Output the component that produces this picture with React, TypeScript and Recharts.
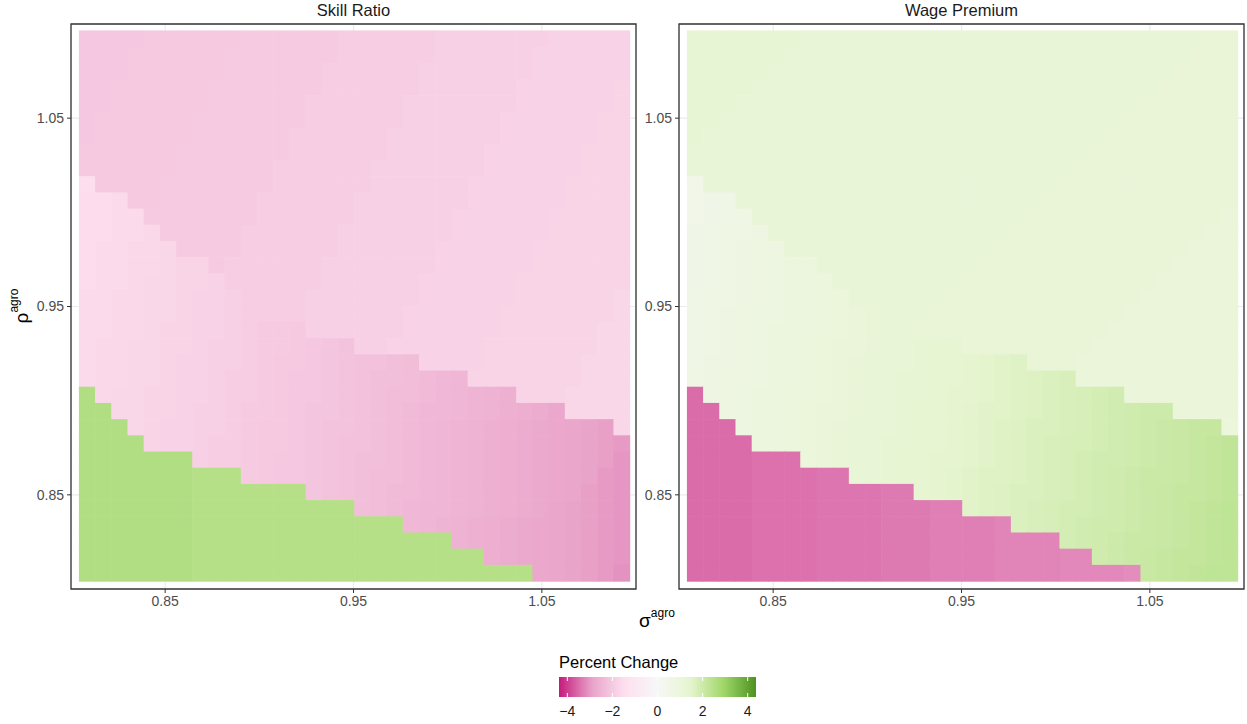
import React from 'react';
import { ScatterChart, Scatter, XAxis, YAxis, CartesianGrid, ReferenceArea } from 'recharts';

// ---- categories (cell centres) ----
const sigmaValues = [0.8085, 0.8171, 0.8257, 0.8343, 0.8429, 0.8515, 0.8601, 0.8687, 0.8773, 0.8859, 0.8945, 0.9031, 0.9117, 0.9203, 0.9289, 0.9375, 0.9461, 0.9547, 0.9633, 0.9719, 0.9805, 0.9891, 0.9977, 1.0063, 1.0149, 1.0235, 1.0321, 1.0407, 1.0493, 1.0579, 1.0665, 1.0751, 1.0837, 1.0923];
// top row first
const rhoValues = [1.0923, 1.0837, 1.0751, 1.0665, 1.0579, 1.0493, 1.0407, 1.0321, 1.0235, 1.0149, 1.0063, 0.9977, 0.9891, 0.9805, 0.9719, 0.9633, 0.9547, 0.9461, 0.9375, 0.9289, 0.9203, 0.9117, 0.9031, 0.8945, 0.8859, 0.8773, 0.8687, 0.8601, 0.8515, 0.8429, 0.8343, 0.8257, 0.8171, 0.8085];
const CELL_STEP = 0.0086;

const axisTicks = [0.85, 0.95, 1.05];
const minorGridValues = [0.9, 1.0];
const legendTicks = [-4, -2, 0, 2, 4];
const panelTitles = ['Skill Ratio', 'Wage Premium'];

// ---- Skill Ratio (percent change), rows top -> bottom, columns left -> right ----
const skillRatio: number[][] = [
  [-2.05,-2.05,-2.05,-2.05,-2,-2,-2,-2,-2,-2,-1.95,-1.95,-1.95,-1.95,-1.95,-1.95,-1.9,-1.9,-1.9,-1.9,-1.9,-1.9,-1.85,-1.85,-1.85,-1.85,-1.85,-1.85,-1.85,-1.8,-1.8,-1.8,-1.8,-1.8],
  [-2.05,-2.05,-2.05,-2,-2,-2,-2,-2,-2,-1.95,-1.95,-1.95,-1.95,-1.95,-1.95,-1.95,-1.9,-1.9,-1.9,-1.9,-1.9,-1.9,-1.85,-1.85,-1.85,-1.85,-1.85,-1.85,-1.8,-1.8,-1.8,-1.8,-1.8,-1.8],
  [-2.05,-2.05,-2.05,-2,-2,-2,-2,-2,-2,-1.95,-1.95,-1.95,-1.95,-1.95,-1.95,-1.9,-1.9,-1.9,-1.9,-1.9,-1.9,-1.85,-1.85,-1.85,-1.85,-1.85,-1.85,-1.85,-1.8,-1.8,-1.8,-1.8,-1.8,-1.8],
  [-2.05,-2.05,-2,-2,-2,-2,-2,-2,-1.95,-1.95,-1.95,-1.95,-1.95,-1.95,-1.95,-1.9,-1.9,-1.9,-1.9,-1.9,-1.9,-1.85,-1.85,-1.85,-1.85,-1.85,-1.85,-1.8,-1.8,-1.8,-1.8,-1.8,-1.8,-1.75],
  [-2.05,-2.05,-2,-2,-2,-2,-2,-2,-1.95,-1.95,-1.95,-1.95,-1.95,-1.95,-1.9,-1.9,-1.9,-1.9,-1.9,-1.9,-1.85,-1.85,-1.85,-1.85,-1.85,-1.85,-1.85,-1.8,-1.8,-1.8,-1.8,-1.8,-1.8,-1.75],
  [-2.05,-2,-2,-2,-2,-2,-2,-1.95,-1.95,-1.95,-1.95,-1.95,-1.95,-1.95,-1.9,-1.9,-1.9,-1.9,-1.9,-1.9,-1.85,-1.85,-1.85,-1.85,-1.85,-1.85,-1.8,-1.8,-1.8,-1.8,-1.8,-1.8,-1.75,-1.75],
  [-2.05,-2,-2,-2,-2,-2,-2,-1.95,-1.95,-1.95,-1.95,-1.95,-1.95,-1.9,-1.9,-1.9,-1.9,-1.9,-1.9,-1.85,-1.85,-1.85,-1.85,-1.85,-1.85,-1.85,-1.8,-1.8,-1.8,-1.8,-1.8,-1.8,-1.75,-1.75],
  [-2,-2,-2,-2,-2,-2,-1.95,-1.95,-1.95,-1.95,-1.95,-1.95,-1.95,-1.9,-1.9,-1.9,-1.9,-1.9,-1.9,-1.85,-1.85,-1.85,-1.85,-1.85,-1.85,-1.8,-1.8,-1.8,-1.8,-1.8,-1.8,-1.75,-1.75,-1.75],
  [-2,-2,-2,-2,-2,-2,-1.95,-1.95,-1.95,-1.95,-1.95,-1.95,-1.9,-1.9,-1.9,-1.9,-1.9,-1.9,-1.85,-1.85,-1.85,-1.85,-1.85,-1.85,-1.85,-1.8,-1.8,-1.8,-1.8,-1.8,-1.8,-1.75,-1.75,-1.75],
  [-1.5,-2,-2,-2,-2,-1.95,-1.95,-1.95,-1.95,-1.95,-1.95,-1.95,-1.9,-1.9,-1.9,-1.9,-1.9,-1.9,-1.85,-1.85,-1.85,-1.85,-1.85,-1.85,-1.8,-1.8,-1.8,-1.8,-1.8,-1.8,-1.75,-1.75,-1.75,-1.75],
  [-1.55,-1.55,-1.6,-2,-2,-1.95,-1.95,-1.95,-1.95,-1.95,-1.95,-1.9,-1.9,-1.9,-1.9,-1.9,-1.9,-1.85,-1.85,-1.85,-1.85,-1.85,-1.85,-1.85,-1.8,-1.8,-1.8,-1.8,-1.8,-1.8,-1.75,-1.75,-1.75,-1.75],
  [-1.55,-1.55,-1.6,-1.6,-1.95,-1.95,-1.95,-1.95,-1.95,-1.95,-1.95,-1.9,-1.9,-1.9,-1.9,-1.9,-1.9,-1.85,-1.85,-1.85,-1.85,-1.85,-1.85,-1.8,-1.8,-1.8,-1.8,-1.8,-1.8,-1.75,-1.75,-1.75,-1.75,-1.75],
  [-1.55,-1.55,-1.6,-1.6,-1.65,-1.95,-1.95,-1.95,-1.95,-1.95,-1.9,-1.9,-1.9,-1.9,-1.9,-1.9,-1.85,-1.85,-1.85,-1.85,-1.85,-1.85,-1.85,-1.8,-1.8,-1.8,-1.8,-1.8,-1.8,-1.75,-1.75,-1.75,-1.75,-1.75],
  [-1.55,-1.6,-1.6,-1.65,-1.65,-1.7,-1.95,-1.95,-1.95,-1.95,-1.9,-1.9,-1.9,-1.9,-1.9,-1.9,-1.85,-1.85,-1.85,-1.85,-1.85,-1.85,-1.8,-1.8,-1.8,-1.8,-1.8,-1.8,-1.75,-1.75,-1.75,-1.75,-1.75,-1.75],
  [-1.55,-1.6,-1.6,-1.65,-1.65,-1.7,-1.75,-1.75,-1.95,-1.9,-1.9,-1.9,-1.9,-1.9,-1.9,-1.85,-1.85,-1.85,-1.85,-1.85,-1.85,-1.85,-1.8,-1.8,-1.8,-1.8,-1.8,-1.8,-1.75,-1.75,-1.75,-1.75,-1.75,-1.75],
  [-1.55,-1.6,-1.6,-1.65,-1.7,-1.7,-1.75,-1.75,-1.8,-1.9,-1.9,-1.9,-1.9,-1.9,-1.9,-1.85,-1.85,-1.85,-1.85,-1.85,-1.85,-1.8,-1.8,-1.8,-1.8,-1.8,-1.8,-1.75,-1.75,-1.75,-1.75,-1.75,-1.75,-1.75],
  [-1.6,-1.6,-1.65,-1.65,-1.7,-1.7,-1.75,-1.8,-1.8,-1.85,-1.9,-1.9,-1.9,-1.9,-1.85,-1.85,-1.85,-1.85,-1.85,-1.85,-1.85,-1.8,-1.8,-1.8,-1.8,-1.8,-1.8,-1.75,-1.75,-1.75,-1.75,-1.75,-1.75,-1.7],
  [-1.6,-1.6,-1.65,-1.65,-1.7,-1.7,-1.75,-1.8,-1.8,-1.85,-1.9,-1.9,-1.9,-1.9,-1.85,-1.85,-1.85,-1.85,-1.85,-1.85,-1.8,-1.8,-1.8,-1.8,-1.8,-1.8,-1.75,-1.75,-1.75,-1.75,-1.75,-1.75,-1.75,-1.7],
  [-1.6,-1.6,-1.65,-1.65,-1.7,-1.75,-1.75,-1.8,-1.8,-1.85,-1.9,-1.95,-1.95,-2,-1.85,-1.85,-1.85,-1.85,-1.85,-1.85,-1.8,-1.8,-1.8,-1.8,-1.8,-1.8,-1.75,-1.75,-1.75,-1.75,-1.75,-1.75,-1.7,-1.7],
  [-1.6,-1.65,-1.65,-1.7,-1.7,-1.75,-1.75,-1.8,-1.85,-1.85,-1.9,-1.95,-1.95,-2,-2.05,-2.1,-2.15,-1.85,-1.85,-1.8,-1.8,-1.8,-1.8,-1.8,-1.8,-1.75,-1.75,-1.75,-1.75,-1.75,-1.75,-1.75,-1.7,-1.7],
  [-1.6,-1.65,-1.65,-1.7,-1.7,-1.75,-1.8,-1.8,-1.85,-1.85,-1.9,-1.95,-2,-2,-2.05,-2.1,-2.15,-2.2,-2.2,-2.25,-2.3,-1.8,-1.8,-1.8,-1.8,-1.75,-1.75,-1.75,-1.75,-1.75,-1.75,-1.7,-1.7,-1.7],
  [-1.6,-1.65,-1.65,-1.7,-1.7,-1.75,-1.8,-1.8,-1.85,-1.9,-1.9,-1.95,-2,-2.05,-2.05,-2.1,-2.15,-2.2,-2.25,-2.25,-2.3,-2.35,-2.4,-2.45,-1.75,-1.75,-1.75,-1.75,-1.75,-1.75,-1.75,-1.7,-1.7,-1.7],
  [2.55,-1.65,-1.7,-1.7,-1.75,-1.75,-1.8,-1.8,-1.85,-1.9,-1.9,-1.95,-2,-2.05,-2.05,-2.1,-2.15,-2.2,-2.25,-2.3,-2.3,-2.35,-2.4,-2.45,-2.5,-2.55,-2.6,-1.75,-1.75,-1.75,-1.7,-1.7,-1.7,-1.7],
  [2.55,2.55,-1.7,-1.7,-1.75,-1.75,-1.8,-1.85,-1.85,-1.9,-1.95,-1.95,-2,-2.05,-2.1,-2.1,-2.15,-2.2,-2.25,-2.3,-2.35,-2.4,-2.4,-2.45,-2.5,-2.55,-2.6,-2.65,-2.7,-2.8,-1.7,-1.7,-1.7,-1.7],
  [2.55,2.55,2.55,-1.7,-1.75,-1.8,-1.8,-1.85,-1.85,-1.9,-1.95,-2,-2,-2.05,-2.1,-2.15,-2.15,-2.2,-2.25,-2.3,-2.35,-2.4,-2.45,-2.5,-2.55,-2.6,-2.65,-2.7,-2.75,-2.8,-2.85,-2.9,-2.95,-1.7],
  [2.55,2.55,2.55,2.55,-1.75,-1.8,-1.8,-1.85,-1.9,-1.9,-1.95,-2,-2,-2.05,-2.1,-2.15,-2.2,-2.2,-2.25,-2.3,-2.35,-2.4,-2.45,-2.5,-2.55,-2.6,-2.65,-2.7,-2.75,-2.8,-2.85,-2.9,-2.95,-3],
  [2.55,2.55,2.55,2.55,2.55,2.55,2.55,-1.85,-1.9,-1.9,-1.95,-2,-2.05,-2.05,-2.1,-2.15,-2.2,-2.25,-2.25,-2.3,-2.35,-2.4,-2.45,-2.5,-2.55,-2.6,-2.65,-2.7,-2.75,-2.8,-2.85,-2.9,-2.95,-3.05],
  [2.55,2.55,2.55,2.55,2.55,2.55,2.55,2.5,2.5,2.5,-1.95,-2,-2.05,-2.05,-2.1,-2.15,-2.2,-2.25,-2.3,-2.3,-2.35,-2.4,-2.45,-2.5,-2.55,-2.6,-2.65,-2.7,-2.75,-2.8,-2.85,-2.9,-3,-3.05],
  [2.55,2.55,2.55,2.55,2.55,2.55,2.55,2.5,2.5,2.5,2.5,2.5,2.5,2.5,-2.1,-2.15,-2.2,-2.25,-2.3,-2.35,-2.35,-2.4,-2.45,-2.5,-2.55,-2.6,-2.65,-2.7,-2.75,-2.8,-2.85,-2.95,-3,-3.05],
  [2.55,2.55,2.55,2.55,2.55,2.55,2.55,2.5,2.5,2.5,2.5,2.5,2.5,2.5,2.5,2.5,2.5,-2.25,-2.3,-2.35,-2.4,-2.45,-2.45,-2.5,-2.55,-2.6,-2.65,-2.7,-2.75,-2.85,-2.9,-2.95,-3,-3.05],
  [2.55,2.55,2.55,2.55,2.55,2.55,2.55,2.5,2.5,2.5,2.5,2.5,2.5,2.5,2.5,2.5,2.5,2.5,2.5,2.5,-2.4,-2.45,-2.5,-2.55,-2.6,-2.65,-2.7,-2.75,-2.8,-2.85,-2.9,-2.95,-3,-3.05],
  [2.55,2.55,2.55,2.55,2.55,2.55,2.55,2.5,2.5,2.5,2.5,2.5,2.5,2.5,2.5,2.5,2.5,2.5,2.5,2.5,2.5,2.5,2.5,-2.55,-2.6,-2.65,-2.7,-2.75,-2.8,-2.85,-2.9,-2.95,-3,-3.05],
  [2.55,2.55,2.55,2.55,2.55,2.55,2.55,2.5,2.5,2.5,2.5,2.5,2.5,2.5,2.5,2.5,2.5,2.5,2.5,2.5,2.5,2.5,2.5,2.5,2.5,-2.65,-2.7,-2.75,-2.8,-2.85,-2.9,-2.95,-3,-3.05],
  [2.55,2.55,2.55,2.55,2.55,2.55,2.55,2.5,2.5,2.5,2.5,2.5,2.5,2.5,2.5,2.5,2.5,2.5,2.5,2.5,2.5,2.5,2.5,2.5,2.5,2.5,2.5,2.5,-2.8,-2.85,-2.9,-2.95,-3,-3.1],
];

// ---- Wage Premium (percent change) ----
const wagePremium: number[][] = [
  [1.3,1.3,1.3,1.3,1.3,1.3,1.3,1.25,1.25,1.25,1.25,1.25,1.25,1.25,1.25,1.25,1.25,1.25,1.25,1.2,1.2,1.2,1.2,1.2,1.2,1.2,1.2,1.2,1.2,1.2,1.2,1.2,1.15,1.15],
  [1.3,1.3,1.3,1.3,1.3,1.3,1.25,1.25,1.25,1.25,1.25,1.25,1.25,1.25,1.25,1.25,1.25,1.25,1.2,1.2,1.2,1.2,1.2,1.2,1.2,1.2,1.2,1.2,1.2,1.2,1.2,1.15,1.15,1.15],
  [1.3,1.3,1.3,1.3,1.3,1.25,1.25,1.25,1.25,1.25,1.25,1.25,1.25,1.25,1.25,1.25,1.25,1.2,1.2,1.2,1.2,1.2,1.2,1.2,1.2,1.2,1.2,1.2,1.2,1.2,1.15,1.15,1.15,1.15],
  [1.3,1.3,1.3,1.3,1.25,1.25,1.25,1.25,1.25,1.25,1.25,1.25,1.25,1.25,1.25,1.25,1.2,1.2,1.2,1.2,1.2,1.2,1.2,1.2,1.2,1.2,1.2,1.2,1.2,1.15,1.15,1.15,1.15,1.15],
  [1.3,1.3,1.3,1.25,1.25,1.25,1.25,1.25,1.25,1.25,1.25,1.25,1.25,1.25,1.25,1.2,1.2,1.2,1.2,1.2,1.2,1.2,1.2,1.2,1.2,1.2,1.2,1.2,1.15,1.15,1.15,1.15,1.15,1.15],
  [1.3,1.3,1.25,1.25,1.25,1.25,1.25,1.25,1.25,1.25,1.25,1.25,1.25,1.25,1.2,1.2,1.2,1.2,1.2,1.2,1.2,1.2,1.2,1.2,1.2,1.2,1.2,1.15,1.15,1.15,1.15,1.15,1.15,1.15],
  [1.3,1.25,1.25,1.25,1.25,1.25,1.25,1.25,1.25,1.25,1.25,1.25,1.25,1.2,1.2,1.2,1.2,1.2,1.2,1.2,1.2,1.2,1.2,1.2,1.2,1.2,1.15,1.15,1.15,1.15,1.15,1.15,1.15,1.15],
  [1.25,1.25,1.25,1.25,1.25,1.25,1.25,1.25,1.25,1.25,1.25,1.25,1.2,1.2,1.2,1.2,1.2,1.2,1.2,1.2,1.2,1.2,1.2,1.2,1.2,1.15,1.15,1.15,1.15,1.15,1.15,1.15,1.15,1.15],
  [1.25,1.25,1.25,1.25,1.25,1.25,1.25,1.25,1.25,1.25,1.25,1.2,1.2,1.2,1.2,1.2,1.2,1.2,1.2,1.2,1.2,1.2,1.2,1.2,1.15,1.15,1.15,1.15,1.15,1.15,1.15,1.15,1.15,1.15],
  [0.55,1.25,1.25,1.25,1.25,1.25,1.25,1.25,1.25,1.25,1.2,1.2,1.2,1.2,1.2,1.2,1.2,1.2,1.2,1.2,1.2,1.2,1.2,1.15,1.15,1.15,1.15,1.15,1.15,1.15,1.15,1.15,1.15,1.15],
  [0.55,0.6,0.65,1.25,1.25,1.25,1.25,1.25,1.25,1.2,1.2,1.2,1.2,1.2,1.2,1.2,1.2,1.2,1.2,1.2,1.2,1.2,1.15,1.15,1.15,1.15,1.15,1.15,1.15,1.15,1.15,1.15,1.15,1.15],
  [0.55,0.6,0.65,0.7,1.25,1.25,1.25,1.25,1.2,1.2,1.2,1.2,1.2,1.2,1.2,1.2,1.2,1.2,1.2,1.2,1.2,1.15,1.15,1.15,1.15,1.15,1.15,1.15,1.15,1.15,1.15,1.15,1.15,1.1],
  [0.6,0.65,0.7,0.7,0.75,1.25,1.25,1.2,1.2,1.2,1.2,1.2,1.2,1.2,1.2,1.2,1.2,1.2,1.2,1.2,1.15,1.15,1.15,1.15,1.15,1.15,1.15,1.15,1.15,1.15,1.15,1.15,1.1,1.1],
  [0.6,0.65,0.7,0.75,0.8,0.8,1.2,1.2,1.2,1.2,1.2,1.2,1.2,1.2,1.2,1.2,1.2,1.2,1.2,1.15,1.15,1.15,1.15,1.15,1.15,1.15,1.15,1.15,1.15,1.15,1.15,1.1,1.1,1.1],
  [0.6,0.65,0.7,0.75,0.8,0.85,0.9,0.95,1.2,1.2,1.2,1.2,1.2,1.2,1.2,1.2,1.2,1.2,1.15,1.15,1.15,1.15,1.15,1.15,1.15,1.15,1.15,1.15,1.15,1.15,1.1,1.1,1.1,1.1],
  [0.6,0.65,0.7,0.75,0.8,0.85,0.9,0.95,1,1.2,1.2,1.2,1.2,1.2,1.2,1.2,1.2,1.15,1.15,1.15,1.15,1.15,1.15,1.15,1.15,1.15,1.15,1.15,1.15,1.1,1.1,1.1,1.1,1.1],
  [0.65,0.7,0.7,0.75,0.8,0.85,0.9,0.95,1,1.05,1.2,1.2,1.2,1.2,1.2,1.2,1.15,1.15,1.15,1.15,1.15,1.15,1.15,1.15,1.15,1.15,1.15,1.15,1.1,1.1,1.1,1.1,1.1,1.1],
  [0.65,0.7,0.75,0.8,0.85,0.85,0.9,0.95,1,1.05,1.1,1.15,1.2,1.2,1.2,1.15,1.15,1.15,1.15,1.15,1.15,1.15,1.15,1.15,1.15,1.15,1.15,1.1,1.1,1.1,1.1,1.1,1.1,1.1],
  [0.65,0.7,0.75,0.8,0.85,0.9,0.95,0.95,1,1.05,1.1,1.15,1.2,1.25,1.15,1.15,1.15,1.15,1.15,1.15,1.15,1.15,1.15,1.15,1.15,1.15,1.1,1.1,1.1,1.1,1.1,1.1,1.1,1.1],
  [0.65,0.7,0.75,0.8,0.85,0.9,0.95,1,1.05,1.1,1.1,1.15,1.2,1.25,1.3,1.35,1.4,1.15,1.15,1.15,1.15,1.15,1.15,1.15,1.15,1.1,1.1,1.1,1.1,1.1,1.1,1.1,1.1,1.1],
  [0.7,0.75,0.75,0.8,0.85,0.9,0.95,1,1.05,1.1,1.15,1.2,1.2,1.25,1.3,1.35,1.4,1.45,1.5,1.55,1.6,1.15,1.15,1.15,1.1,1.1,1.1,1.1,1.1,1.1,1.1,1.1,1.1,1.1],
  [0.7,0.75,0.8,0.85,0.85,0.9,0.95,1,1.05,1.1,1.15,1.2,1.25,1.3,1.3,1.35,1.4,1.45,1.5,1.55,1.6,1.65,1.7,1.75,1.1,1.1,1.1,1.1,1.1,1.1,1.1,1.1,1.1,1.1],
  [-3.5,0.75,0.8,0.85,0.9,0.95,1,1,1.05,1.1,1.15,1.2,1.25,1.3,1.35,1.4,1.45,1.45,1.5,1.55,1.6,1.65,1.7,1.75,1.8,1.85,1.9,1.1,1.1,1.1,1.1,1.1,1.1,1.1],
  [-3.5,-3.5,0.8,0.85,0.9,0.95,1,1.05,1.1,1.1,1.15,1.2,1.25,1.3,1.35,1.4,1.45,1.5,1.55,1.55,1.6,1.65,1.7,1.75,1.8,1.85,1.9,1.95,2,2,1.1,1.1,1.1,1.1],
  [-3.5,-3.5,-3.5,0.85,0.9,0.95,1,1.05,1.1,1.15,1.2,1.2,1.25,1.3,1.35,1.4,1.45,1.5,1.55,1.6,1.65,1.7,1.7,1.75,1.8,1.85,1.9,1.95,2,2.05,2.1,2.15,2.15,1.05],
  [-3.5,-3.5,-3.5,-3.5,0.9,0.95,1,1.05,1.1,1.15,1.2,1.25,1.3,1.35,1.35,1.4,1.45,1.5,1.55,1.6,1.65,1.7,1.75,1.8,1.8,1.85,1.9,1.95,2,2.05,2.1,2.15,2.2,2.25],
  [-3.5,-3.5,-3.5,-3.5,-3.45,-3.45,-3.45,1.05,1.1,1.15,1.2,1.25,1.3,1.35,1.4,1.45,1.45,1.5,1.55,1.6,1.65,1.7,1.75,1.8,1.85,1.9,1.9,1.95,2,2.05,2.1,2.15,2.2,2.25],
  [-3.5,-3.5,-3.5,-3.5,-3.45,-3.45,-3.45,-3.45,-3.4,-3.4,1.2,1.25,1.3,1.35,1.4,1.45,1.5,1.55,1.6,1.6,1.65,1.7,1.75,1.8,1.85,1.9,1.95,2,2.05,2.05,2.1,2.15,2.2,2.25],
  [-3.5,-3.5,-3.5,-3.5,-3.45,-3.45,-3.45,-3.45,-3.4,-3.4,-3.4,-3.4,-3.35,-3.35,1.4,1.45,1.5,1.55,1.6,1.65,1.7,1.7,1.75,1.8,1.85,1.9,1.95,2,2.05,2.1,2.15,2.15,2.2,2.25],
  [-3.5,-3.5,-3.5,-3.5,-3.45,-3.45,-3.45,-3.45,-3.4,-3.4,-3.4,-3.4,-3.35,-3.35,-3.35,-3.3,-3.3,1.55,1.6,1.65,1.7,1.75,1.8,1.85,1.85,1.9,1.95,2,2.05,2.1,2.15,2.2,2.25,2.3],
  [-3.5,-3.5,-3.5,-3.5,-3.45,-3.45,-3.45,-3.45,-3.4,-3.4,-3.4,-3.4,-3.35,-3.35,-3.35,-3.3,-3.3,-3.3,-3.3,-3.25,1.7,1.75,1.8,1.85,1.9,1.95,1.95,2,2.05,2.1,2.15,2.2,2.25,2.3],
  [-3.5,-3.5,-3.5,-3.5,-3.45,-3.45,-3.45,-3.45,-3.4,-3.4,-3.4,-3.4,-3.35,-3.35,-3.35,-3.3,-3.3,-3.3,-3.3,-3.25,-3.25,-3.25,-3.25,1.85,1.9,1.95,2,2.05,2.05,2.1,2.15,2.2,2.25,2.3],
  [-3.5,-3.5,-3.5,-3.5,-3.45,-3.45,-3.45,-3.45,-3.4,-3.4,-3.4,-3.4,-3.35,-3.35,-3.35,-3.3,-3.3,-3.3,-3.3,-3.25,-3.25,-3.25,-3.25,-3.2,-3.2,1.95,2,2.05,2.1,2.15,2.2,2.2,2.25,2.3],
  [-3.5,-3.5,-3.5,-3.5,-3.45,-3.45,-3.45,-3.45,-3.4,-3.4,-3.4,-3.4,-3.35,-3.35,-3.35,-3.3,-3.3,-3.3,-3.3,-3.25,-3.25,-3.25,-3.25,-3.2,-3.2,-3.2,-3.2,-3.15,2.1,2.15,2.2,2.25,2.3,2.3],
];

// ---- colour scale (PiYG, symmetric limits) ----
const LIMIT = 4.37;
const palette = ['#c51b7d', '#e9a3c9', '#fde0ef', '#f7f7f7', '#e6f5d0', '#a1d76a', '#4d9221'];

const FONT = '"Liberation Sans", Arial, Helvetica, sans-serif';
const DOMAIN: [number, number] = [0.8, 1.1];
const PLOT_SIZE = 565;
const CHART_HEIGHT = 619;

function hexToRgb(h: string) {
  return [parseInt(h.slice(1, 3), 16), parseInt(h.slice(3, 5), 16), parseInt(h.slice(5, 7), 16)];
}
const paletteRgb = palette.map(hexToRgb);

function fillFor(v: number) {
  const t = Math.max(0, Math.min(1, (v + LIMIT) / (2 * LIMIT)));
  const pos = t * (paletteRgb.length - 1);
  const i = Math.min(Math.floor(pos), paletteRgb.length - 2);
  const f = pos - i;
  const a = paletteRgb[i];
  const b = paletteRgb[i + 1];
  const c = a.map((x, k) => Math.round(x + (b[k] - x) * f));
  return `rgb(${c[0]},${c[1]},${c[2]})`;
}

const CELL_PX = (PLOT_SIZE / (DOMAIN[1] - DOMAIN[0])) * CELL_STEP;

function toCells(grid: number[][]) {
  const out: { sigma: number; rho: number; value: number }[] = [];
  grid.forEach((row, r) => {
    row.forEach((v, c) => {
      out.push({ sigma: sigmaValues[c], rho: rhoValues[r], value: v });
    });
  });
  return out;
}

const Tile = (props: any) => {
  const { cx, cy } = props;
  const value = props.payload ? props.payload.value : props.value;
  if (cx == null || cy == null) return null;
  return (
    <rect
      x={cx - CELL_PX / 2}
      y={cy - CELL_PX / 2}
      width={CELL_PX + 0.6}
      height={CELL_PX + 0.6}
      fill={fillFor(value)}
      stroke="none"
    />
  );
};

const minorVertical = (p: any) => {
  const ax = p && p.xAxis;
  if (ax && typeof ax.scale === 'function') return minorGridValues.map((v) => ax.scale(v));
  return [];
};
const minorHorizontal = (p: any) => {
  const ax = p && p.yAxis;
  if (ax && typeof ax.scale === 'function') return minorGridValues.map((v) => ax.scale(v));
  return [];
};

function Panel({ grid, left, width, marginRight }: { grid: number[][]; left: number; width: number; marginRight: number }) {
  const cells = React.useMemo(() => toCells(grid), [grid]);
  const tickStyle = { fill: '#4d4d4d', fontSize: 14, fontFamily: FONT };
  return (
    <div style={{ position: 'absolute', left, top: 0 }}>
      <ScatterChart width={width} height={CHART_HEIGHT} margin={{ top: 24, right: marginRight, bottom: 0, left: 0 }}>
        <CartesianGrid stroke="#ebebeb" strokeWidth={0.6} horizontalCoordinatesGenerator={minorHorizontal} verticalCoordinatesGenerator={minorVertical} />
        <CartesianGrid stroke="#ebebeb" strokeWidth={1.1} />
        <XAxis
          type="number"
          dataKey="sigma"
          domain={DOMAIN}
          ticks={axisTicks}
          interval={0}
          allowDataOverflow
          tickFormatter={(v: number) => v.toFixed(2)}
          axisLine={false}
          tickLine={{ stroke: '#333333', strokeWidth: 1 }}
          tickSize={4}
          tickMargin={3}
          tick={tickStyle}
          height={30}
        />
        <YAxis
          type="number"
          dataKey="rho"
          domain={DOMAIN}
          ticks={axisTicks}
          interval={0}
          allowDataOverflow
          tickFormatter={(v: number) => v.toFixed(2)}
          axisLine={false}
          tickLine={{ stroke: '#333333', strokeWidth: 1 }}
          tickSize={4}
          tickMargin={3}
          tick={tickStyle}
          width={71}
        />
        <Scatter data={cells} shape={Tile} isAnimationActive={false} />
        <ReferenceArea x1={DOMAIN[0]} x2={DOMAIN[1]} y1={DOMAIN[0]} y2={DOMAIN[1]} fill="none" fillOpacity={0} stroke="#333333" strokeWidth={1.3} ifOverflow="visible" />
      </ScatterChart>
    </div>
  );
}

function Overlay() {
  const barX = 559;
  const barW = 197;
  const barY = 677;
  const barH = 20;
  const stops = Array.from({ length: 41 }, (_, i) => i / 40);
  const toX = (v: number) => barX + ((v + LIMIT) / (2 * LIMIT)) * barW;
  return (
    <svg width={1247} height={724} style={{ position: 'absolute', left: 0, top: 0, pointerEvents: 'none' }} fontFamily={FONT}>
      <defs>
        <linearGradient id="pcGrad" x1="0" x2="1" y1="0" y2="0">
          {stops.map((t) => (
            <stop key={t} offset={t} stopColor={fillFor(-LIMIT + t * 2 * LIMIT)} />
          ))}
        </linearGradient>
      </defs>
      <text x={353.5} y={16} textAnchor="middle" fontSize={16.5} fill="#1a1a1a">{panelTitles[0]}</text>
      <text x={961.5} y={16} textAnchor="middle" fontSize={16.5} fill="#1a1a1a">{panelTitles[1]}</text>

      <text x={657} y={627} textAnchor="middle" fill="#000">
        <tspan fontSize={19}>σ</tspan>
        <tspan fontSize={12} dy={-10}>agro</tspan>
      </text>
      <text transform="translate(28,306) rotate(-90)" textAnchor="middle" fill="#000">
        <tspan fontSize={19}>ρ</tspan>
        <tspan fontSize={12} dy={-10}>agro</tspan>
      </text>

      <text x={barX} y={667.5} fontSize={16.5} fill="#000">Percent Change</text>
      <rect x={barX} y={barY} width={barW} height={barH} fill="url(#pcGrad)" />
      {legendTicks.map((v) => (
        <g key={v}>
          <line x1={toX(v)} x2={toX(v)} y1={barY} y2={barY + 4} stroke="#fff" strokeWidth={1} />
          <line x1={toX(v)} x2={toX(v)} y1={barY + barH - 4} y2={barY + barH} stroke="#fff" strokeWidth={1} />
          <text x={toX(v)} y={715.5} textAnchor="middle" fontSize={14} fill="#1a1a1a">
            {v < 0 ? `\u2212${Math.abs(v)}` : `${v}`}
          </text>
        </g>
      ))}
    </svg>
  );
}

export default function App() {
  return (
    <div style={{ position: 'absolute', left: 0, top: 0, width: 1247, height: 724, background: '#ffffff', overflow: 'hidden', fontFamily: FONT }}>
      <Panel grid={skillRatio} left={0} width={640} marginRight={4} />
      <Panel grid={wagePremium} left={608} width={639} marginRight={3} />
      <Overlay />
    </div>
  );
}
